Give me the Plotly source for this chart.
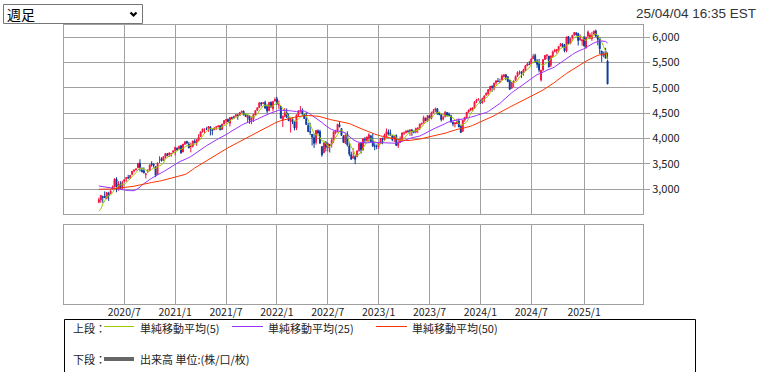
import pandas as pd
import plotly.graph_objects as go

# ---------------- data (weekly, week starting Monday) ----------------
first_week = "2020-04-06"

open_ = [
    2740, 2782, 2846, 2855, 2815, 2915, 2913, 3004, 3038, 3199, 2994, 3094, 3018,
    3155, 3206, 3225, 3219, 3289, 3356, 3381, 3418, 3509, 3370, 3363, 3285, 3334,
    3368, 3500, 3493, 3441, 3297, 3584, 3600, 3567, 3634, 3694, 3675, 3693, 3723,
    # 2021
    3764, 3803, 3797, 3852, 3732, 3886, 3939, 3886, 3842, 3844, 3942, 3917, 3969,
    4034, 4130, 4179, 4185, 4192, 4228, 4169, 4170, 4216, 4229, 4248, 4174, 4285,
    4356, 4373, 4297, 4409, 4407, 4439, 4462, 4454, 4514, 4535, 4470, 4402, 4449,
    4348, 4386, 4463, 4553, 4610, 4701, 4689, 4712, 4628, 4548, 4710, 4587, 4733,
    # 2022
    4778, 4655, 4632, 4356, 4431, 4506, 4412, 4332, 4354, 4327, 4202, 4462, 4541,
    4547, 4474, 4385, 4256, 4131, 4081, 4014, 3920, 4151, 4134, 3838, 3716, 3920,
    3815, 3880, 3883, 3966, 4113, 4155, 4269, 4195, 4042, 3910, 4084, 3849, 3682,
    3609, 3637, 3638, 3762, 3901, 3779, 3977, 3956, 4005, 4053, 3940, 3853, 3843,
    # 2023
    3853, 3911, 3990, 3979, 4061, 4120, 4097, 4053, 3992, 4055, 3855, 3917, 3982,
    4102, 4110, 4140, 4132, 4166, 4136, 4126, 4190, 4205, 4283, 4309, 4396, 4344,
    4450, 4394, 4502, 4548, 4585, 4492, 4465, 4385, 4426, 4511, 4479, 4446, 4311,
    4284, 4289, 4343, 4239, 4140, 4364, 4406, 4515, 4554, 4569, 4593, 4725, 4758,
    # 2024
    4745, 4703, 4772, 4853, 4886, 4958, 5026, 4989, 5094, 5130, 5111, 5154, 5219,
    5257, 5218, 5149, 4988, 5115, 5143, 5233, 5305, 5316, 5297, 5341, 5432, 5460,
    5471, 5572, 5638, 5526, 5477, 5151, 5350, 5557, 5636, 5624, 5442, 5616, 5711,
    5727, 5737, 5832, 5857, 5833, 5724, 6008, 5874, 5992, 6041, 6083, 6064, 5941, 5921,
    # 2025
    5982, 5788, 6015, 5969, 5970, 6046, 6121, 6026, 5968, 5725, 5636, 5718, 5527,
]
high = [
    2830, 2880, 2869, 2954, 2934, 2945, 2981, 3068, 3212, 3233, 3155, 3155, 3166,
    3186, 3238, 3280, 3272, 3352, 3387, 3400, 3509, 3588, 3425, 3428, 3320, 3394,
    3482, 3550, 3502, 3441, 3529, 3646, 3628, 3644, 3699, 3712, 3726, 3712, 3760,
    # 2021
    3827, 3824, 3860, 3870, 3887, 3935, 3951, 3929, 3914, 3960, 3983, 3975, 4083,
    4130, 4191, 4194, 4219, 4238, 4236, 4184, 4220, 4234, 4249, 4262, 4287, 4356,
    4372, 4393, 4415, 4429, 4440, 4470, 4480, 4511, 4545, 4549, 4486, 4466, 4458,
    4429, 4476, 4559, 4608, 4718, 4714, 4718, 4744, 4672, 4713, 4731, 4740, 4808,
    # 2022
    4819, 4749, 4632, 4453, 4595, 4590, 4489, 4386, 4416, 4327, 4465, 4546, 4637,
    4593, 4471, 4513, 4308, 4307, 4081, 4090, 4158, 4177, 4169, 3838, 3914, 3946,
    3919, 3880, 4013, 4140, 4168, 4280, 4325, 4203, 4062, 4076, 4140, 3908, 3736,
    3806, 3673, 3762, 3905, 3912, 4001, 4029, 4034, 4100, 4053, 4101, 3905, 3879,
    # 2023
    3906, 4003, 4015, 4094, 4195, 4176, 4176, 4060, 4049, 4079, 3964, 4039, 4110,
    4133, 4164, 4170, 4170, 4187, 4154, 4212, 4209, 4290, 4299, 4448, 4410, 4458,
    4457, 4528, 4579, 4607, 4594, 4527, 4491, 4448, 4541, 4515, 4511, 4466, 4338,
    4310, 4385, 4393, 4268, 4366, 4415, 4521, 4568, 4595, 4609, 4738, 4779, 4793,
    # 2024
    4754, 4803, 4842, 4907, 4975, 5030, 5048, 5098, 5140, 5190, 5179, 5262, 5265,
    5264, 5222, 5150, 5106, 5139, 5240, 5325, 5342, 5315, 5375, 5447, 5505, 5524,
    5570, 5667, 5670, 5565, 5566, 5350, 5563, 5642, 5651, 5627, 5636, 5733, 5767,
    5765, 5820, 5879, 5878, 5863, 6012, 6018, 5972, 6044, 6099, 6089, 6085, 6050, 5950,
    # 2025
    6022, 6007, 6128, 6076, 6101, 6127, 6147, 6044, 5987, 5725, 5715, 5786, 5695,
]
low = [
    2720, 2727, 2727, 2820, 2797, 2766, 2910, 2999, 3031, 2936, 2966, 3004, 3000,
    3128, 3142, 3200, 3204, 3284, 3327, 3367, 3414, 3349, 3330, 3310, 3209, 3324,
    3354, 3441, 3420, 3234, 3280, 3512, 3543, 3558, 3594, 3645, 3633, 3636, 3715,
    # 2021
    3663, 3764, 3790, 3694, 3725, 3870, 3885, 3805, 3723, 3820, 3903, 3853, 3944,
    4034, 4114, 4098, 4164, 4127, 4057, 4062, 4160, 4167, 4220, 4165, 4164, 4279,
    4300, 4321, 4233, 4373, 4385, 4428, 4367, 4440, 4509, 4458, 4427, 4306, 4288,
    4279, 4323, 4460, 4537, 4595, 4630, 4672, 4585, 4495, 4532, 4600, 4531, 4733,
    # 2022
    4662, 4582, 4395, 4223, 4415, 4402, 4340, 4115, 4279, 4157, 4162, 4424, 4507,
    4451, 4381, 4267, 4128, 4063, 3859, 3811, 3875, 4074, 3900, 3637, 3705, 3741,
    3742, 3721, 3819, 3911, 4079, 4112, 4219, 4057, 3907, 3886, 3838, 3647, 3584,
    3603, 3491, 3647, 3735, 3698, 3751, 3906, 3936, 3918, 3919, 3828, 3765, 3784,
    # 2023
    3795, 3888, 3885, 3950, 4016, 4060, 4047, 3943, 3928, 3847, 3809, 3909, 3951,
    4069, 4098, 4114, 4049, 4049, 4098, 4099, 4103, 4166, 4261, 4292, 4341, 4329,
    4385, 4375, 4502, 4514, 4475, 4461, 4335, 4356, 4415, 4430, 4446, 4316, 4238,
    4216, 4284, 4223, 4104, 4128, 4329, 4401, 4511, 4537, 4546, 4593, 4695, 4751,
    # 2024
    4682, 4682, 4714, 4845, 4845, 4919, 4920, 4947, 5058, 5114, 5092, 5146, 5204,
    5146, 5107, 4954, 4986, 5012, 5142, 5211, 5256, 5191, 5234, 5331, 5432, 5447,
    5448, 5571, 5497, 5391, 5302, 5120, 5324, 5548, 5561, 5402, 5407, 5602, 5700,
    5675, 5695, 5809, 5790, 5697, 5697, 5853, 5856, 5951, 6023, 6024, 5832, 5932, 5829,
    # 2025
    5809, 5774, 6007, 5962, 5924, 6031, 6009, 5837, 5666, 5505, 5598, 5581, 5069,
]
close = [
    2790, 2875, 2837, 2831, 2930, 2864, 2955, 3044, 3194, 3041, 3098, 3009, 3130,
    3185, 3225, 3216, 3271, 3351, 3373, 3397, 3508, 3427, 3341, 3319, 3298, 3348,
    3477, 3484, 3465, 3270, 3509, 3585, 3558, 3638, 3699, 3663, 3709, 3703, 3756,
    # 2021
    3825, 3768, 3841, 3714, 3887, 3934, 3907, 3811, 3842, 3943, 3913, 3975, 4020,
    4129, 4185, 4180, 4181, 4233, 4174, 4156, 4204, 4230, 4247, 4166, 4281, 4352,
    4370, 4327, 4412, 4395, 4437, 4468, 4442, 4509, 4535, 4459, 4433, 4455, 4357,
    4391, 4471, 4545, 4605, 4697, 4683, 4698, 4595, 4538, 4712, 4620, 4725, 4766,
    # 2022
    4677, 4663, 4398, 4432, 4501, 4419, 4349, 4385, 4329, 4204, 4463, 4543, 4546,
    4488, 4393, 4272, 4132, 4123, 4024, 3901, 4158, 4109, 3901, 3675, 3912, 3825,
    3899, 3863, 3962, 4130, 4145, 4280, 4228, 4058, 3924, 4067, 3873, 3693, 3586,
    3640, 3583, 3753, 3901, 3771, 3993, 3965, 4026, 4072, 3934, 3852, 3845, 3840,
    # 2023
    3895, 3999, 3973, 4071, 4136, 4090, 4079, 3970, 4046, 3862, 3917, 3971, 4109,
    4105, 4138, 4133, 4169, 4136, 4124, 4192, 4205, 4282, 4299, 4410, 4348, 4450,
    4399, 4505, 4536, 4582, 4478, 4464, 4370, 4406, 4516, 4457, 4450, 4320, 4288,
    4309, 4327, 4224, 4117, 4358, 4415, 4514, 4559, 4595, 4604, 4719, 4755, 4770,
    # 2024
    4697, 4784, 4840, 4891, 4959, 5027, 5006, 5089, 5137, 5124, 5117, 5234, 5254,
    5204, 5123, 4967, 5100, 5128, 5223, 5303, 5305, 5278, 5347, 5432, 5465, 5460,
    5567, 5615, 5505, 5459, 5347, 5344, 5554, 5635, 5648, 5408, 5626, 5703, 5738,
    5751, 5815, 5865, 5808, 5729, 5996, 5870, 5969, 6032, 6090, 6051, 5931, 5971, 5942,
    # 2025
    5827, 5997, 6101, 6041, 6026, 6115, 6013, 5955, 5770, 5639, 5667, 5581, 5074,
]

# weekly closes before the first plotted week (May 2019 - Apr 2020), used for the moving averages
prior_close = [
    2946, 2881, 2860, 2826, 2752, 2873, 2887, 2950, 2942, 2990, 3014, 2977, 3026,
    2932, 2919, 2889, 2847, 2926, 2979, 3007, 2992, 2962, 2952, 2970, 2986, 3023,
    3067, 3093, 3120, 3110, 3141, 3146, 3169, 3221, 3240, 3235, 3265, 3330, 3295,
    3226, 3328, 3380, 3338, 2954, 2972, 2711, 2305, 2541, 2489,
]

ma_periods = [5, 25, 50]
ma_names = ["単純移動平均(5)", "単純移動平均(25)", "単純移動平均(50)"]
ma_colors = ["#99cc00", "#9933ff", "#ff3300"]

tick_dates = ["2020-07-06", "2021-01-04", "2021-07-05", "2022-01-03", "2022-07-04",
              "2023-01-02", "2023-07-03", "2024-01-01", "2024-07-01", "2025-01-06"]
tick_text = ["2020/7", "2021/1", "2021/7", "2022/1", "2022/7",
             "2023/1", "2023/7", "2024/1", "2024/7", "2025/1"]
y_ticks = [3000, 3500, 4000, 4500, 5000, 5500, 6000]
y_tick_text = ["3,000", "3,500", "4,000", "4,500", "5,000", "5,500", "6,000"]

# ---------------- build ----------------
dates = pd.date_range(first_week, periods=len(close), freq="W-MON")
all_close = pd.Series(prior_close + close, dtype=float)

UP = "#f51441"
DOWN = "#0a3a9c"
GRID = "#a0a0a0"
CJK = "Noto Sans CJK JP"

fig = go.Figure()
fig.add_trace(go.Candlestick(
    x=dates, open=open_, high=high, low=low, close=close,
    xaxis="x2", yaxis="y",
    increasing=dict(line=dict(color=UP, width=1), fillcolor=UP),
    decreasing=dict(line=dict(color=DOWN, width=1), fillcolor=DOWN),
    whiskerwidth=0, showlegend=False, hoverinfo="skip",
))
for p, name, col in zip(ma_periods, ma_names, ma_colors):
    ma = all_close.rolling(p).mean().iloc[len(prior_close):].to_numpy()
    fig.add_trace(go.Scatter(x=dates, y=ma, mode="lines", name=name,
                             line=dict(color=col, width=1), xaxis="x2", yaxis="y",
                             showlegend=False, hoverinfo="skip"))
# empty volume panel (index has no volume) - placeholder trace so the subplot is drawn
fig.add_trace(go.Scatter(x=[dates[0]], y=[None], mode="lines", xaxis="x", yaxis="y2",
                         showlegend=False, hoverinfo="skip"))

# pixel geometry helpers (plot area in px)
L, R, T, B = 64, 643, 25, 304
def px(x):
    return (x - L) / (R - L)
def py(y):
    return (B - y) / (B - T)

x_range = ["2019-12-03 07:00", "2025-08-04 19:00"]

axis_common = dict(showline=True, mirror=True, linecolor=GRID, linewidth=1,
                   showgrid=True, gridcolor=GRID, gridwidth=1, zeroline=False)

fig.update_layout(
    width=761, height=372,
    margin=dict(l=L, r=761 - R, t=T, b=372 - B),
    paper_bgcolor="white", plot_bgcolor="white",
    showlegend=False, hovermode=False,
    font=dict(family=CJK, size=11, color="#222222"),
    xaxis=dict(domain=[0, 1], anchor="y2", range=x_range, type="date",
               tickmode="array", tickvals=tick_dates, ticktext=tick_text,
               ticks="", ticklabelstandoff=-2,
               tickfont=dict(family=CJK, size=10.5, color="#222222"),
               rangeslider=dict(visible=False), **axis_common),
    xaxis2=dict(domain=[0, 1], anchor="y", matches="x", type="date",
                tickmode="array", tickvals=tick_dates, showticklabels=False,
                ticks="", rangeslider=dict(visible=False), **axis_common),
    yaxis=dict(domain=[py(214), 1], anchor="x2", side="right", range=[2507, 6237],
               tickmode="array", tickvals=y_ticks, ticktext=y_tick_text,
               ticks="outside", ticklen=6, tickcolor=GRID,
               tickfont=dict(family=CJK, size=11, color="#222222"), **axis_common),
    yaxis2=dict(domain=[0, py(225)], anchor="x", range=[0, 1], showticklabels=False,
                showline=True, mirror=True, linecolor=GRID, linewidth=1,
                showgrid=False, zeroline=False),
)

shapes = []
# dropdown box
shapes.append(dict(type="rect", xref="paper", yref="paper",
                   x0=px(3.5), x1=px(142.5), y0=py(23.5), y1=py(4.5),
                   line=dict(color="#767676", width=1), fillcolor="white", layer="above"))
shapes.append(dict(type="path", xref="paper", yref="paper",
                   path=f"M {px(130.5)} {py(12.5)} L {px(133.5)} {py(15.5)} L {px(136.5)} {py(12.5)}",
                   line=dict(color="black", width=2.2)))
# legend box
shapes.append(dict(type="rect", xref="paper", yref="paper",
                   x0=px(64.5), x1=px(695.5), y0=py(378), y1=py(319.5),
                   line=dict(color="black", width=1), fillcolor="rgba(0,0,0,0)"))
# legend samples
sample_x = [(104, 134), (232, 263), (376, 407)]
for (x0, x1), col in zip(sample_x, ma_colors):
    shapes.append(dict(type="line", xref="paper", yref="paper",
                       x0=px(x0), x1=px(x1), y0=py(326.5), y1=py(326.5),
                       line=dict(color=col, width=1)))
shapes.append(dict(type="line", xref="paper", yref="paper",
                   x0=px(104), x1=px(134), y0=py(359), y1=py(359),
                   line=dict(color="#666666", width=4)))
fig.update_layout(shapes=shapes)

ann = []
def text(x, y, s, size=11, anchor="left", family=CJK, color="#222222"):
    ann.append(dict(x=px(x), y=py(y), xref="paper", yref="paper", text=s,
                    showarrow=False, xanchor=anchor, yanchor="middle", borderpad=0,
                    font=dict(family=family, size=size, color=color)))

text(6, 14, "週足", size=14, color="black")
text(757, 13, "25/04/04 16:35 EST", size=13.5, anchor="right",
     family="Liberation Sans, Arial", color="#333333")
text(72, 327.5, "上段：")
text(139, 327.5, ma_names[0])
text(267, 327.5, ma_names[1])
text(411, 327.5, ma_names[2])
text(72, 359, "下段：")
text(139, 359, "出来高 単位:(株/口/枚)")
fig.update_layout(annotations=ann)

fig.write_html("out.html", config={"displayModeBar": False},
               post_script="document.body.style.margin='0';document.body.style.overflow='hidden';")
